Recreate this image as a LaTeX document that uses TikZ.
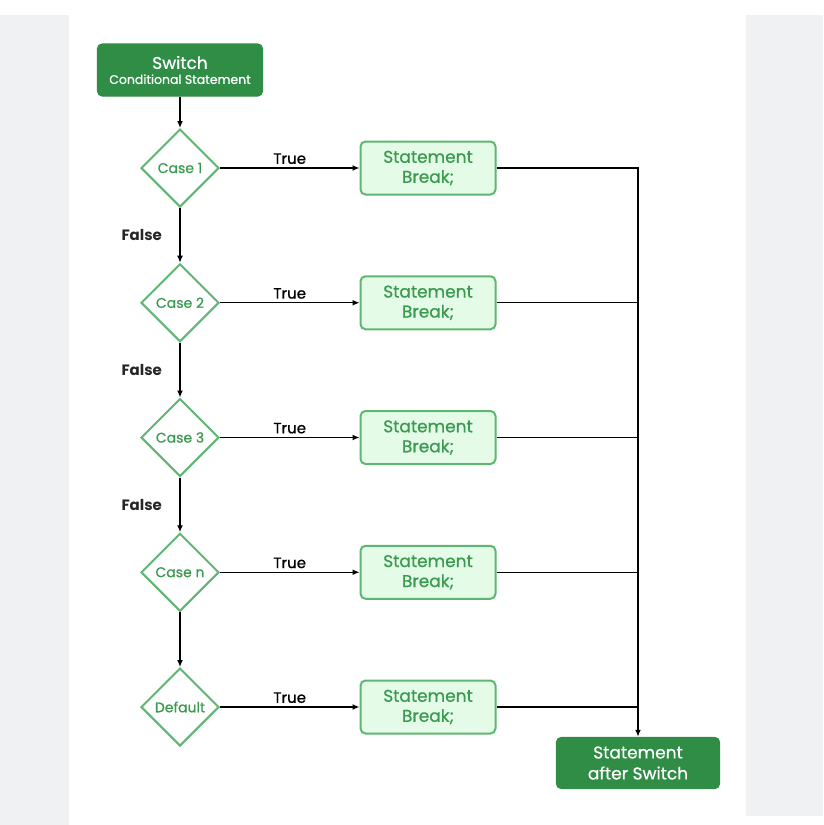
\documentclass[tikz,border=0pt]{standalone}
\usepackage{fontspec}
\setmainfont{Poppins}
\newfontfamily\medfont[FakeBold=0.7]{Poppins}
\usetikzlibrary{positioning,shapes.geometric,arrows.meta}
\definecolor{gfgdark}{HTML}{308D46}
\definecolor{gfglight}{HTML}{E4FBE8}
\definecolor{gfgline}{HTML}{5FB672}
\definecolor{gfgtext}{HTML}{3B9A50}
\definecolor{panel}{HTML}{F0F1F3}
\tikzset{
  darkbox/.style={rectangle, rounded corners=5pt, fill=gfgdark, draw=gfgdark, text=white, align=center},
  casenode/.style={diamond, draw=gfgline, line width=2pt, fill=white, text=gfgtext, minimum width=78pt, minimum height=78pt, inner sep=0pt, font=\medfont\fontsize{14}{16}\selectfont},
  stmtbox/.style={rectangle, rounded corners=5pt, draw=gfgline, line width=2pt, fill=gfglight, text=gfgtext, minimum width=135pt, minimum height=53pt, align=center, font=\medfont\fontsize{17}{20}\selectfont},
  truelabel/.style={font=\medfont\fontsize{15}{17}\selectfont, text=black},
  falselabel/.style={font=\bfseries\fontsize{15}{17}\selectfont, text=black!85, left, xshift=-14pt}
}
\begin{document}
\begin{tikzpicture}[x=1pt, y=-1pt, ->, >={Latex[length=7pt,width=6pt]}, line width=1.4pt, node distance=134.75pt, auto]
  \fill[panel] (0,15) rectangle (69,825);
  \fill[panel] (746,15) rectangle (823,816);
  \useasboundingbox (0,0) rectangle (823,825);

  \node [darkbox, minimum width=165pt, minimum height=52pt] (switch) at (180,70)
    {{\medfont\fontsize{17}{19}\selectfont Switch}\\[3pt]{\medfont\fontsize{12.5}{13}\selectfont Conditional Statement}};
  \node [casenode] (case1) at (180,168) {Case 1};
  \node [casenode] (case2) [below of=case1] {Case 2};
  \node [casenode] (case3) [below of=case2] {Case 3};
  \node [casenode] (casen) [below of=case3] {Case n};
  \node [casenode] (default) [below of=casen] {Default};
  \node [stmtbox] (stmt1) [right of=case1, node distance=248pt] {Statement\\Break;};
  \node [stmtbox] (stmt2) [right of=case2, node distance=248pt] {Statement\\Break;};
  \node [stmtbox] (stmt3) [right of=case3, node distance=248pt] {Statement\\Break;};
  \node [stmtbox] (stmtn) [right of=casen, node distance=248pt] {Statement\\Break;};
  \node [stmtbox] (stmtd) [right of=default, node distance=248pt] {Statement\\Break;};
  \node [darkbox, minimum width=163pt, minimum height=51pt, font=\medfont\fontsize{17}{21}\selectfont] (after) at (638,763) {Statement\\after Switch};

  \coordinate (join2) at (stmt2 -| after);
  \coordinate (join3) at (stmt3 -| after);
  \coordinate (joinn) at (stmtn -| after);
  \coordinate (joind) at (stmtd -| after);

  \path
  (switch) edge (case1)
  (case1) edge node[truelabel] {True} (stmt1)
  (case2) edge node[truelabel] {True} (stmt2)
  (case3) edge node[truelabel] {True} (stmt3)
  (casen) edge node[truelabel] {True} (stmtn)
  (default) edge node[truelabel] {True} (stmtd)
  (case1) edge node[falselabel] {False} (case2)
  (case2) edge node[falselabel] {False} (case3)
  (case3) edge node[falselabel] {False} (casen)
  (casen) edge (default)
  ;
  \draw (stmt1) -| (after);
  \draw[-] (stmt2) -- (join2);
  \draw[-] (stmt3) -- (join3);
  \draw[-] (stmtn) -- (joinn);
  \draw[-] (stmtd) -- (joind);
\end{tikzpicture}
\end{document}
